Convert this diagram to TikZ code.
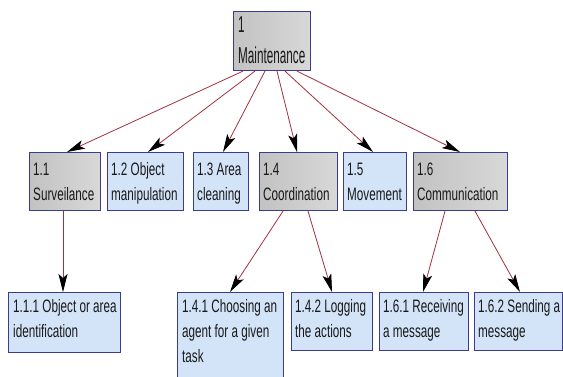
\documentclass[tikz,border=0pt]{standalone}
\usepackage{fontspec}
\setmainfont{Liberation Sans}
\newfontfamily\lvlfont{Liberation Sans}[FakeStretch=0.65]
\newfontfamily\rootfont{Liberation Sans}[FakeStretch=0.51]
\usetikzlibrary{arrows.meta}
\definecolor{bordc}{HTML}{3C3C8C}
\definecolor{grayA}{HTML}{C2C2C2}
\definecolor{grayB}{HTML}{D8D8D8}
\definecolor{blueF}{HTML}{D4E4F8}
\definecolor{linkc}{HTML}{A3303E}
\tikzset{
  boxbase/.style={draw=bordc, line width=1.1pt, inner sep=0pt, anchor=north west},
  graybox/.style={boxbase, left color=grayA, right color=grayB},
  bluebox/.style={boxbase, fill=blueF},
  lvltxt/.style={inner sep=0pt, anchor=north west, align=left, text=black!90,
    font=\lvlfont\fontsize{18}{25}\selectfont},
  roottxt/.style={inner sep=0pt, anchor=north west, align=left, text=black!90,
    font=\rootfont\fontsize{23}{31}\selectfont},
  link/.style={draw=linkc, line width=0.8pt,
    -{Stealth[length=18pt, width=9pt, inset=4pt, color=black]}}
}
\newcommand{\fl}{\rule{0pt}{14pt}}
\newcommand{\flr}{\rule{0pt}{18pt}}
\begin{document}
\begin{tikzpicture}[x=1pt,y=-1pt]
\useasboundingbox (0,0) rectangle (563,376);
% boxes
\node[graybox, minimum width=77pt, minimum height=59pt] (root) at (233,11) {};
\node[graybox, minimum width=71pt, minimum height=58pt] (n11) at (29,152) {};
\node[bluebox, minimum width=76pt, minimum height=58pt] (n12) at (107,152) {};
\node[bluebox, minimum width=55pt, minimum height=58pt] (n13) at (193,152) {};
\node[graybox, minimum width=78pt, minimum height=58pt] (n14) at (259,152) {};
\node[bluebox, minimum width=63pt, minimum height=58pt] (n15) at (343,152) {};
\node[graybox, minimum width=94pt, minimum height=58pt] (n16) at (413,152) {};
\node[bluebox, minimum width=112pt, minimum height=60pt] (n111) at (8,292) {};
\node[bluebox, minimum width=106pt, minimum height=90pt] (n141) at (177,292) {};
\node[bluebox, minimum width=81pt, minimum height=58pt] (n142) at (291,292) {};
\node[bluebox, minimum width=89pt, minimum height=58pt] (n161) at (379,292) {};
\node[bluebox, minimum width=88pt, minimum height=58pt] (n162) at (474,292) {};
% texts
\node[roottxt] (troot) at (238,14) {\flr 1\\Maintenance};
\node[lvltxt] (t11) at (33,161) {\fl 1.1\\Surveilance};
\node[lvltxt] (t12) at (111,161) {\fl 1.2 Object\\manipulation};
\node[lvltxt] (t13) at (197,161) {\fl 1.3 Area\\cleaning};
\node[lvltxt] (t14) at (263,161) {\fl 1.4\\Coordination};
\node[lvltxt] (t15) at (347,161) {\fl 1.5\\Movement};
\node[lvltxt] (t16) at (417,161) {\fl 1.6\\Communication};
\node[lvltxt] (t111) at (13,298) {\fl 1.1.1 Object or area\\identification};
\node[lvltxt] (t141) at (182,298) {\fl 1.4.1 Choosing an\\agent for a given\\task};
\node[lvltxt] (t142) at (295,298) {\fl 1.4.2 Logging\\the actions};
\node[lvltxt] (t161) at (383,298) {\fl 1.6.1 Receiving\\a message};
\node[lvltxt] (t162) at (478,298) {\fl 1.6.2 Sending a\\message};
% connectors
\draw[link] ([xshift=10pt]root.south west) -- ([xshift=38pt]n11.north west);
\draw[link] ([xshift=22pt]root.south west) -- ([xshift=41pt]n12.north west);
\draw[link] ([xshift=32pt]root.south west) -- ([xshift=30pt]n13.north west);
\draw[link] ([xshift=44pt]root.south west) -- ([xshift=38pt]n14.north west);
\draw[link] ([xshift=52pt]root.south west) -- ([xshift=30pt]n15.north west);
\draw[link] ([xshift=64pt]root.south west) -- ([xshift=47pt]n16.north west);
\draw[link] ([xshift=34pt]n11.south west) -- ([xshift=34pt]n111.north west -| n11.south west);
\draw[link] ([xshift=24pt]n14.south west) -- ([xshift=53pt]n141.north west);
\draw[link] ([xshift=49pt]n14.south west) -- ([xshift=41pt]n142.north west);
\draw[link] ([xshift=32pt]n16.south west) -- ([xshift=44pt]n161.north west);
\draw[link] ([xshift=62pt]n16.south west) -- ([xshift=46pt]n162.north west);
\end{tikzpicture}
\end{document}
